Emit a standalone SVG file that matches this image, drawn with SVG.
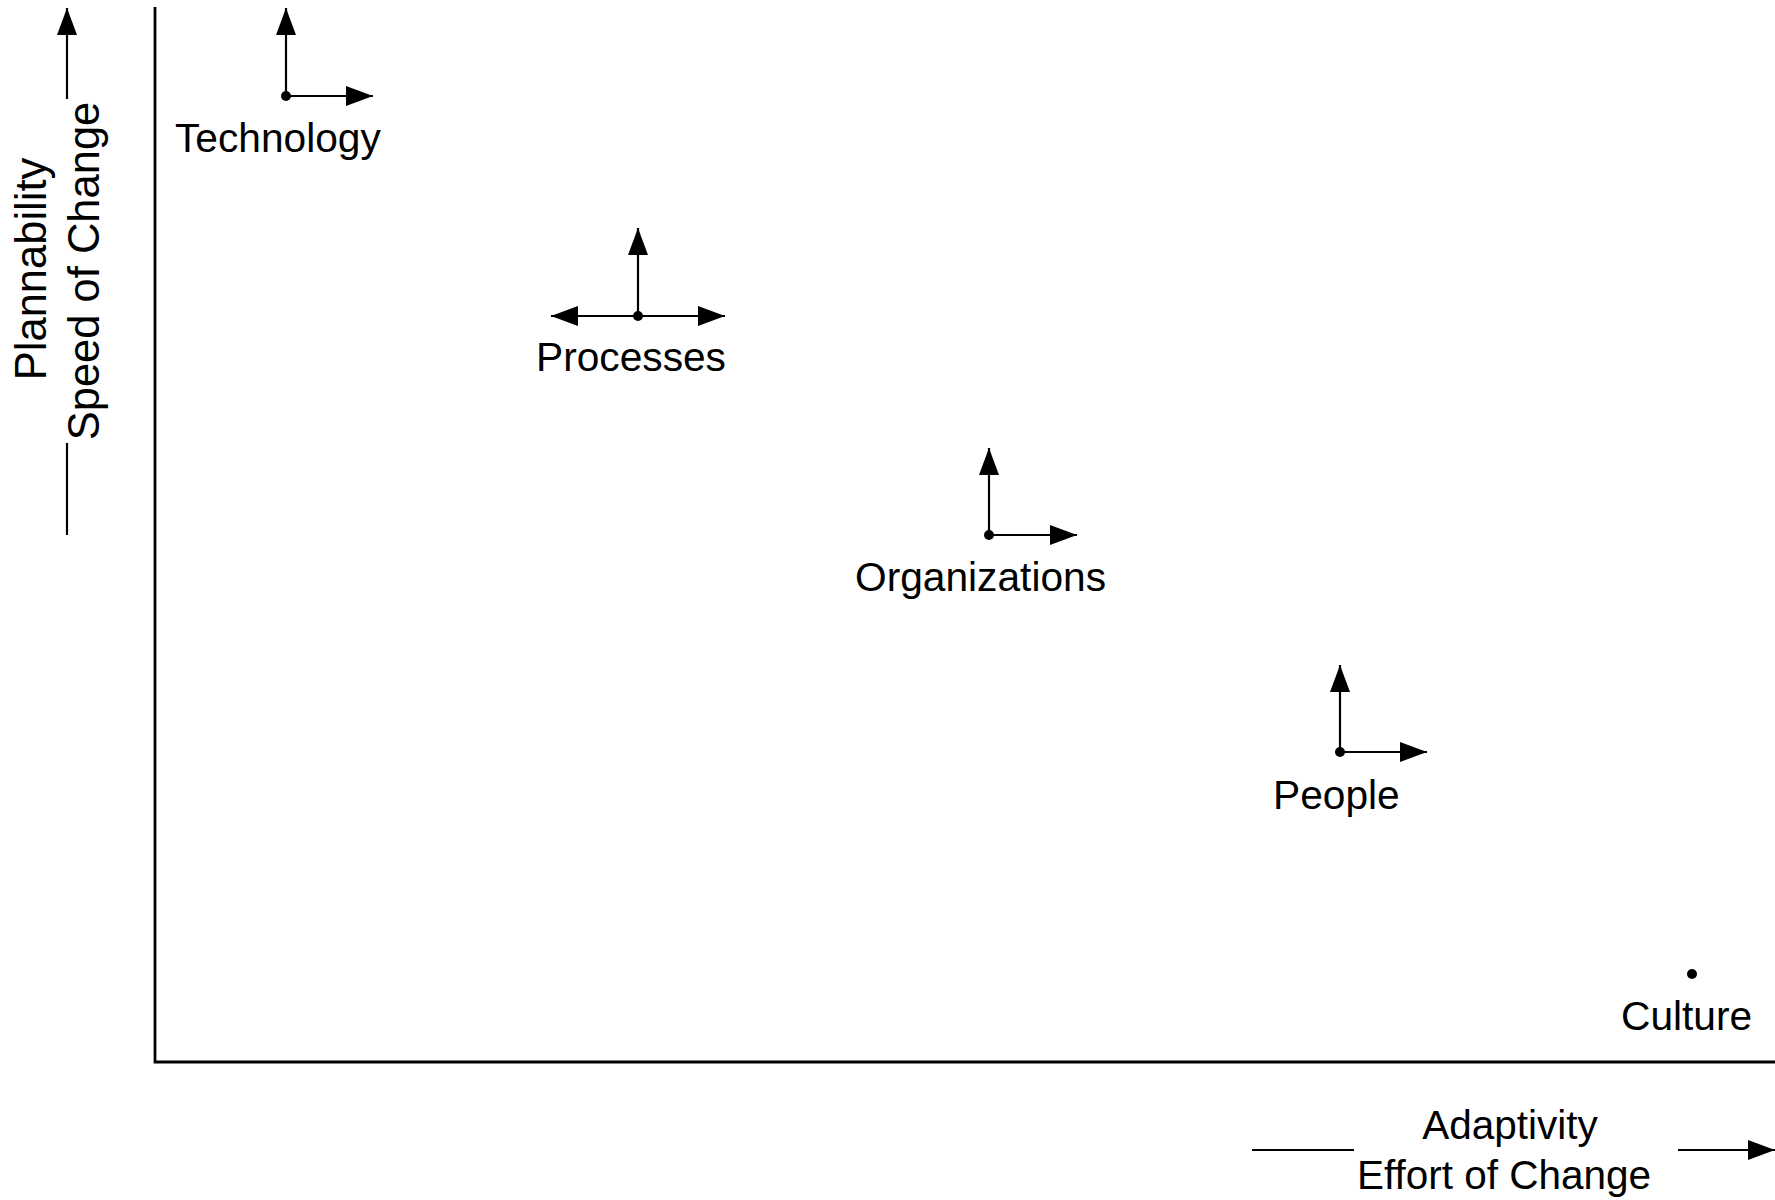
<svg xmlns="http://www.w3.org/2000/svg" width="1775" height="1200" viewBox="0 0 1775 1200">
<style>
.ln{stroke:#000;stroke-width:2.2;fill:none}
.ax{stroke:#000;stroke-width:2.8;fill:none}
.lbl{font-family:"Liberation Sans",Arial,sans-serif;font-size:40.7px;fill:#000}
.axl{font-family:"Liberation Sans",Arial,sans-serif;font-size:40.5px;fill:#000;text-anchor:middle}
.axv{font-family:"Liberation Sans",Arial,sans-serif;font-size:43.5px;fill:#000;text-anchor:middle}
.dot{fill:#000}
</style>
<defs>
<marker id="ah" markerUnits="userSpaceOnUse" markerWidth="28" markerHeight="22" refX="27" refY="11" orient="auto">
<path d="M0,1 L27,11 L0,21 z" fill="#000"/>
</marker>
</defs>
<rect width="1775" height="1200" fill="#fff"/>
<g id="axes">
<path class="ax" d="M155,7 V1062 H1775"/>
<line class="ln" x1="67" y1="99" x2="67" y2="8" marker-end="url(#ah)"/>
<line class="ln" x1="67" y1="443" x2="67" y2="535"/>
<text class="axv" transform="translate(46,269) rotate(-90)">Plannability</text>
<text class="axv" transform="translate(99,271) rotate(-90)">Speed of Change</text>
<line class="ln" x1="1252" y1="1150" x2="1354" y2="1150"/>
<line class="ln" x1="1678" y1="1150" x2="1775" y2="1150" marker-end="url(#ah)"/>
<text class="axl" x="1510" y="1139">Adaptivity</text>
<text class="axl" x="1504" y="1189">Effort of Change</text>
</g>
<g id="connectors">
<line class="ln" x1="286" y1="96" x2="286" y2="8" marker-end="url(#ah)"/>
<line class="ln" x1="286" y1="96" x2="373" y2="96" marker-end="url(#ah)"/>
<line class="ln" x1="638" y1="316" x2="638" y2="228" marker-end="url(#ah)"/>
<line class="ln" x1="638" y1="316" x2="725" y2="316" marker-end="url(#ah)"/>
<line class="ln" x1="638" y1="316" x2="551" y2="316" marker-end="url(#ah)"/>
<line class="ln" x1="989" y1="535" x2="989" y2="448" marker-end="url(#ah)"/>
<line class="ln" x1="989" y1="535" x2="1077" y2="535" marker-end="url(#ah)"/>
<line class="ln" x1="1340" y1="752" x2="1340" y2="665" marker-end="url(#ah)"/>
<line class="ln" x1="1340" y1="752" x2="1427" y2="752" marker-end="url(#ah)"/>
</g>
<g id="technology"><circle class="dot" cx="286" cy="96" r="5"/><text class="lbl" x="175" y="152">Technology</text></g>
<g id="processes"><circle class="dot" cx="638" cy="316" r="5"/><text class="lbl" x="536" y="371">Processes</text></g>
<g id="organizations"><circle class="dot" cx="989" cy="535" r="5"/><text class="lbl" x="855" y="591">Organizations</text></g>
<g id="people"><circle class="dot" cx="1340" cy="752" r="5"/><text class="lbl" x="1273" y="809">People</text></g>
<g id="culture"><circle class="dot" cx="1692" cy="974" r="5"/><text class="lbl" x="1621" y="1030">Culture</text></g>
</svg>
